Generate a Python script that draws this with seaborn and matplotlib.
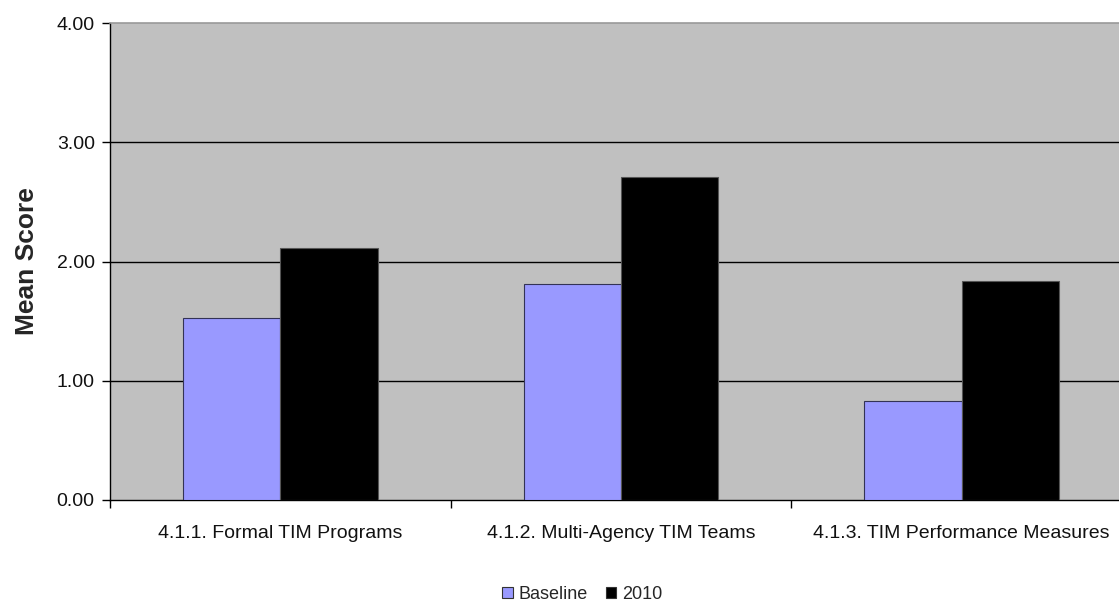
import pandas as pd
import matplotlib
matplotlib.use('Agg')
import matplotlib.pyplot as plt
from matplotlib.patches import Patch
import seaborn as sns

categories = ['4.1.1. Formal TIM Programs', '4.1.2. Multi-Agency TIM Teams', '4.1.3. TIM Performance Measures']
baseline = [1.53, 1.81, 0.83]
y2010 = [2.11, 2.71, 1.84]
series = ['Baseline', '2010']
colors = ['#9999FF', '#000000']

df = pd.DataFrame({
    'category': categories * 2,
    'series': [series[0]] * 3 + [series[1]] * 3,
    'score': baseline + y2010,
})

sns.set_theme(style='white')
plt.rcParams['font.family'] = ['Liberation Sans', 'DejaVu Sans']

W, H = 1119, 608
fig = plt.figure(figsize=(W / 100, H / 100), dpi=100)
ax = fig.add_axes([110 / W, (H - 500) / H, (1132 - 110) / W, (500 - 23) / H])
ax.set_facecolor('#C0C0C0')

sns.barplot(data=df, x='category', y='score', hue='series', palette=colors,
            saturation=1, width=0.572, ax=ax, legend=False, zorder=3)
for i, p in enumerate(ax.patches):
    p.set_edgecolor('#333355' if i < 3 else '#555555')
    p.set_linewidth(0.8)

ax.set_ylim(0, 4)
ax.set_xlim(-0.5, 2.5)
ax.set_yticks([0, 1, 2, 3, 4])
ax.set_yticklabels([f'{v:.2f}' for v in [0, 1, 2, 3, 4]])
for v in [1, 2, 3]:
    ax.axhline(v, color='#000000', lw=1, zorder=1)

ax.set_xticks([-0.5, 0.5, 1.5, 2.5], minor=True)
ax.tick_params(axis='x', which='major', length=0, pad=18, labelsize=14, labelcolor='#111111')
ax.tick_params(axis='x', which='minor', length=6, width=1, color='#000000', direction='out', bottom=True)
ax.tick_params(axis='y', length=6, width=1, color='#000000', direction='out', left=True,
               labelsize=14, pad=5, labelcolor='#111111')

ax.set_xlabel('')
ax.set_ylabel('Mean Score', fontsize=19, fontweight='bold', labelpad=13)

for s in ['left', 'bottom']:
    ax.spines[s].set_color('#000000')
    ax.spines[s].set_linewidth(1)
ax.spines['top'].set_color('#999999')
ax.spines['top'].set_linewidth(1.2)
ax.spines['right'].set_visible(False)

handles = [Patch(facecolor=colors[0], edgecolor='#333333', lw=0.8),
           Patch(facecolor=colors[1], edgecolor='#333333', lw=0.8)]
fig.legend(handles, series, loc='lower center', bbox_to_anchor=(582 / W, -0.018), ncol=2,
           frameon=False, fontsize=13, handlelength=0.6, handleheight=0.6,
           handletextpad=0.3, columnspacing=1.0)

fig.savefig('out.png', dpi=100)
